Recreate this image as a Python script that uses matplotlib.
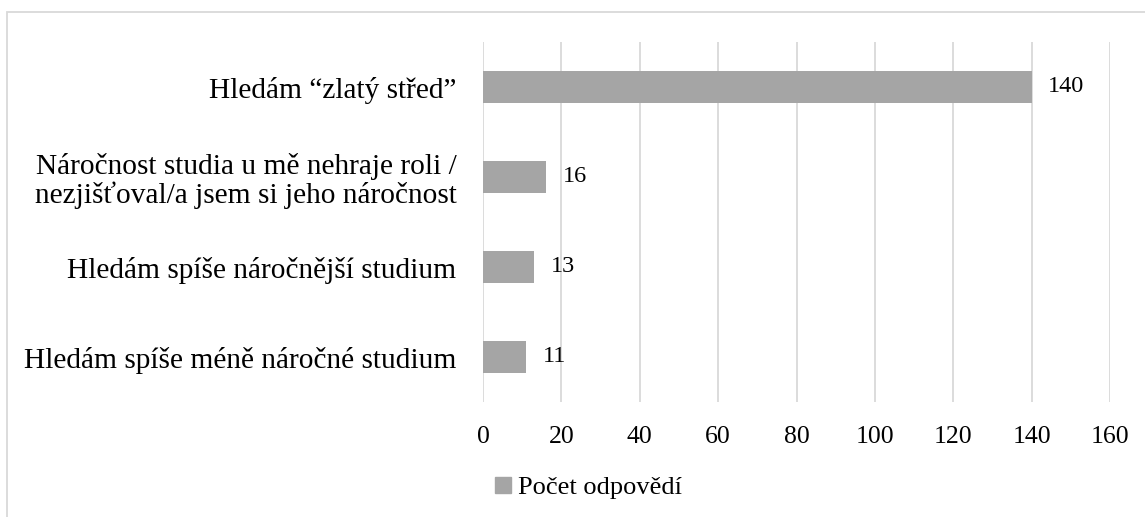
import matplotlib.pyplot as plt
from matplotlib.patches import Rectangle, Patch

categories = [
    "Hledám “zlatý střed”",
    "Náročnost studia u mě nehraje roli /\nnezjišťoval/a jsem si jeho náročnost",
    "Hledám spíše náročnější studium",
    "Hledám spíše méně náročné studium",
]
counts = [140, 16, 13, 11]
series_name = "Počet odpovědí"
xticks = [0, 20, 40, 60, 80, 100, 120, 140, 160]

plt.rcParams['font.family'] = ['Liberation Serif', 'DejaVu Serif']

W, H = 1145, 517
fig = plt.figure(figsize=(W / 100, H / 100), dpi=100)
ax = fig.add_axes([483 / W, 1 - 402 / H, (1110 - 483) / W, (402 - 42) / H])

bar_color = '#A5A5A5'
grid_color = '#D9D9D9'

ypos = list(range(len(categories)))
ax.barh(ypos, counts, height=0.355, color=bar_color, zorder=2)
ax.set_ylim(len(categories) - 0.5, -0.5)
ax.set_xlim(0, 160)
ax.set_xticks(xticks)
ax.set_xticklabels([str(t) for t in xticks], fontsize=18.5)
ax.set_yticks(ypos)
ax.set_yticklabels(categories, fontsize=21.2, linespacing=1.1)
ax.tick_params(axis='both', length=0)
ax.tick_params(axis='x', pad=17)
ax.tick_params(axis='y', pad=19)
for s in ax.spines.values():
    s.set_visible(False)
ax.grid(axis='x', color=grid_color, linewidth=1.3, zorder=0)
ax.set_axisbelow(True)

for y, v in zip(ypos, counts):
    ax.annotate(str(v), (v, y), xytext=(12, 0), textcoords='offset points',
                va='center', ha='left', fontsize=17.5)

ax.legend(handles=[Patch(color=bar_color, label=series_name)],
          loc='center', bbox_to_anchor=(0.5 + 16 / W, 1 - 488 / H),
          bbox_transform=fig.transFigure, frameon=False, fontsize=19,
          handlelength=0.6, handleheight=0.6, handletextpad=0.25)

fig.patches.append(Rectangle((7 / W, -0.1), 1.2, 1 - 12 / H + 0.1,
                             transform=fig.transFigure, fill=False,
                             edgecolor=grid_color, linewidth=1.3))

fig.savefig('out.png', dpi=100)
